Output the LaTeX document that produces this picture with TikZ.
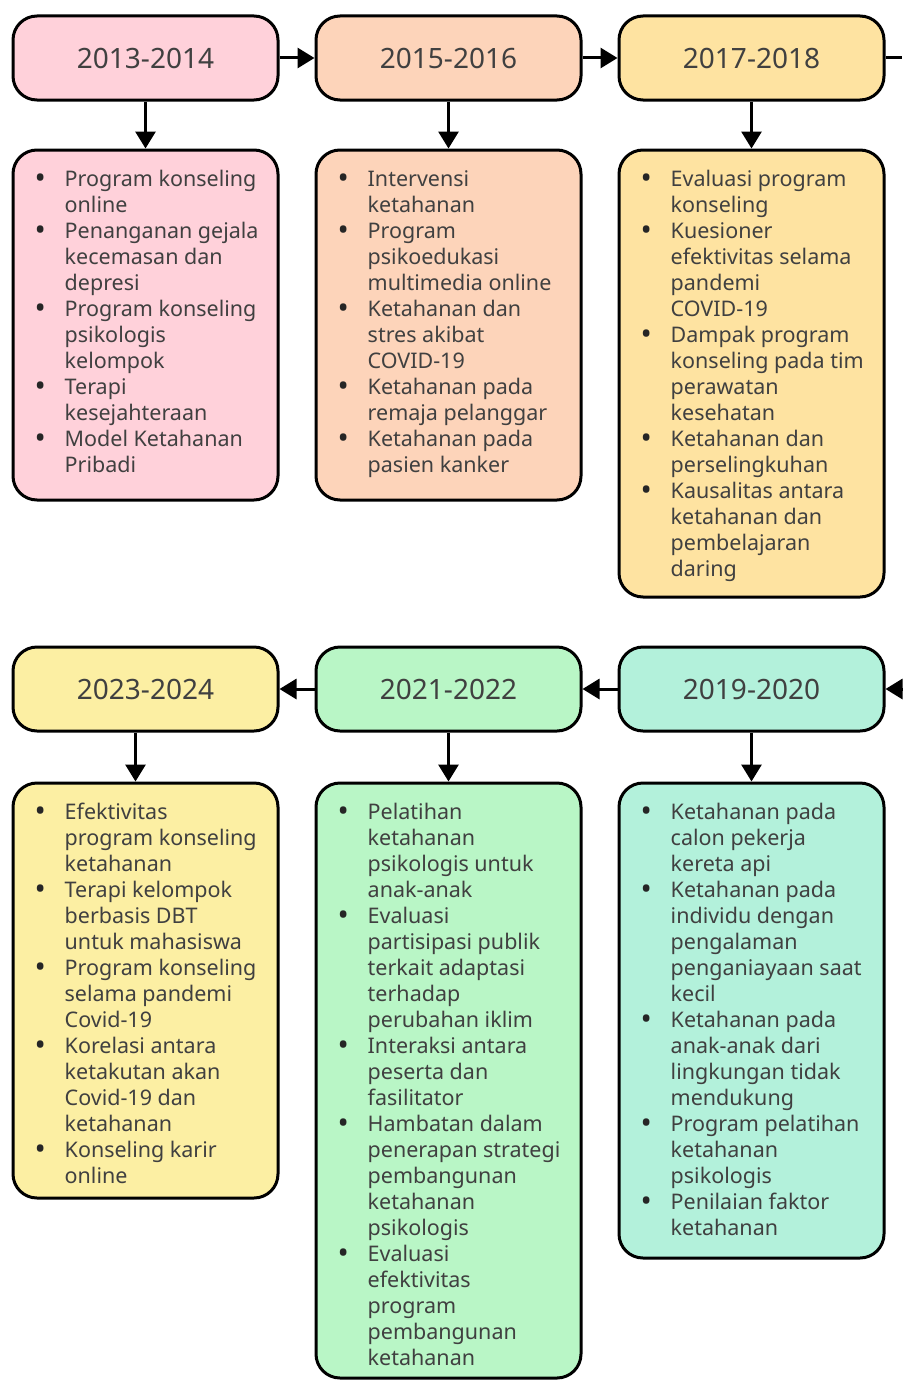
\documentclass[tikz,border=0pt]{standalone}
\usepackage{fontspec}
\setmainfont{Noto Sans}
\usetikzlibrary{arrows.meta}
\definecolor{txt}{HTML}{404040}
\definecolor{cpink}{HTML}{FFD1DA}
\definecolor{corange}{HTML}{FDD4BA}
\definecolor{cgold}{HTML}{FEE3A1}
\definecolor{cyellow}{HTML}{FCEFA3}
\definecolor{cgreen}{HTML}{B9F6C6}
\definecolor{cteal}{HTML}{B3F1DB}
\newcommand{\bul}[1]{\makebox[30pt][l]{\raisebox{-2.4pt}{\fontsize{30}{26}\selectfont\color{black!85}•}}#1}
\newcommand{\cnt}[1]{\hspace*{30pt}#1}
\newcommand{\lines}[1]{\parbox[t]{260pt}{\fontsize{21.5}{26}\selectfont\parindent=0pt #1}}
\tikzset{
  hdr/.style={draw=black, line width=3pt, rounded corners=24pt, minimum width=265pt, minimum height=84pt, font=\fontsize{28}{32}\selectfont, text=txt, inner sep=0pt},
  cbox/.style={draw=black, line width=3pt, rounded corners=24pt, minimum width=265pt, inner sep=0pt},
  lst/.style={anchor=base west, inner sep=0pt, text=txt},
  arr/.style={line width=3pt, -{Triangle[length=17pt,width=20pt]}},
  plain/.style={line width=3pt},
}
\begin{document}
\begin{tikzpicture}[x=1pt,y=-1pt]
\useasboundingbox[fill=white] (0,0) rectangle (902,1381);
% headers
\node[hdr, fill=cpink]   (h1) at (145.5,58) {2013-2014};
\node[hdr, fill=corange] (h2) at (448.5,58) {2015-2016};
\node[hdr, fill=cgold]   (h3) at (751.5,58) {2017-2018};
\node[hdr, fill=cyellow] (h4) at (145.5,689) {2023-2024};
\node[hdr, fill=cgreen]  (h5) at (448.5,689) {2021-2022};
\node[hdr, fill=cteal]   (h6) at (751.5,689) {2019-2020};
% content boxes
\node[cbox, fill=cpink,   minimum height=350pt] (c1) at (145.5,325) {};
\node[cbox, fill=corange, minimum height=350pt] (c2) at (448.5,325) {};
\node[cbox, fill=cgold,   minimum height=447pt] (c3) at (751.5,373.5) {};
\node[cbox, fill=cyellow, minimum height=415pt] (c4) at (145.5,990.5) {};
\node[cbox, fill=cgreen,  minimum height=595pt] (c5) at (448.5,1080.5) {};
\node[cbox, fill=cteal,   minimum height=475pt] (c6) at (751.5,1020.5) {};
% texts
\node[lst] (t1) at ([xshift=23pt,yshift=-38pt]c1.north west) {\lines{%
\bul{Program konseling}\\ \cnt{online}\\
\bul{Penanganan gejala}\\ \cnt{kecemasan dan}\\ \cnt{depresi}\\
\bul{Program konseling}\\ \cnt{psikologis}\\ \cnt{kelompok}\\
\bul{Terapi}\\ \cnt{kesejahteraan}\\
\bul{Model Ketahanan}\\ \cnt{Pribadi}}};
\node[lst] (t2) at ([xshift=23pt,yshift=-38pt]c2.north west) {\lines{%
\bul{Intervensi}\\ \cnt{ketahanan}\\
\bul{Program}\\ \cnt{psikoedukasi}\\ \cnt{multimedia online}\\
\bul{Ketahanan dan}\\ \cnt{stres akibat}\\ \cnt{COVID-19}\\
\bul{Ketahanan pada}\\ \cnt{remaja pelanggar}\\
\bul{Ketahanan pada}\\ \cnt{pasien kanker}}};
\node[lst] (t3) at ([xshift=23pt,yshift=-38pt]c3.north west) {\lines{%
\bul{Evaluasi program}\\ \cnt{konseling}\\
\bul{Kuesioner}\\ \cnt{efektivitas selama}\\ \cnt{pandemi}\\ \cnt{COVID-19}\\
\bul{Dampak program}\\ \cnt{konseling pada tim}\\ \cnt{perawatan}\\ \cnt{kesehatan}\\
\bul{Ketahanan dan}\\ \cnt{perselingkuhan}\\
\bul{Kausalitas antara}\\ \cnt{ketahanan dan}\\ \cnt{pembelajaran}\\ \cnt{daring}}};
\node[lst] (t4) at ([xshift=23pt,yshift=-38pt]c4.north west) {\lines{%
\bul{Efektivitas}\\ \cnt{program konseling}\\ \cnt{ketahanan}\\
\bul{Terapi kelompok}\\ \cnt{berbasis DBT}\\ \cnt{untuk mahasiswa}\\
\bul{Program konseling}\\ \cnt{selama pandemi}\\ \cnt{Covid-19}\\
\bul{Korelasi antara}\\ \cnt{ketakutan akan}\\ \cnt{Covid-19 dan}\\ \cnt{ketahanan}\\
\bul{Konseling karir}\\ \cnt{online}}};
\node[lst] (t5) at ([xshift=23pt,yshift=-38pt]c5.north west) {\lines{%
\bul{Pelatihan}\\ \cnt{ketahanan}\\ \cnt{psikologis untuk}\\ \cnt{anak-anak}\\
\bul{Evaluasi}\\ \cnt{partisipasi publik}\\ \cnt{terkait adaptasi}\\ \cnt{terhadap}\\ \cnt{perubahan iklim}\\
\bul{Interaksi antara}\\ \cnt{peserta dan}\\ \cnt{fasilitator}\\
\bul{Hambatan dalam}\\ \cnt{penerapan strategi}\\ \cnt{pembangunan}\\ \cnt{ketahanan}\\ \cnt{psikologis}\\
\bul{Evaluasi}\\ \cnt{efektivitas}\\ \cnt{program}\\ \cnt{pembangunan}\\ \cnt{ketahanan}}};
\node[lst] (t6) at ([xshift=23pt,yshift=-38pt]c6.north west) {\lines{%
\bul{Ketahanan pada}\\ \cnt{calon pekerja}\\ \cnt{kereta api}\\
\bul{Ketahanan pada}\\ \cnt{individu dengan}\\ \cnt{pengalaman}\\ \cnt{penganiayaan saat}\\ \cnt{kecil}\\
\bul{Ketahanan pada}\\ \cnt{anak-anak dari}\\ \cnt{lingkungan tidak}\\ \cnt{mendukung}\\
\bul{Program pelatihan}\\ \cnt{ketahanan}\\ \cnt{psikologis}\\
\bul{Penilaian faktor}\\ \cnt{ketahanan}}};
% free ends
\coordinate (e1) at (902,58);
\coordinate (e2) at (902,689);
% connectors
\draw[arr] (h1.east) -- (h2.west);
\draw[arr] (h2.east) -- (h3.west);
\draw[plain] (h3.east) -- (e1);
\draw[arr] (e2) -- (h6.east);
\draw[arr] (h6.west) -- (h5.east);
\draw[arr] (h5.west) -- (h4.east);
\draw[arr] (h1.south) -- (c1.north);
\draw[arr] (h2.south) -- (c2.north);
\draw[arr] (h3.south) -- (c3.north);
\draw[arr] ([xshift=-10pt]h4.south) -- ([xshift=-10pt]c4.north);
\draw[arr] (h5.south) -- (c5.north);
\draw[arr] (h6.south) -- (c6.north);
\end{tikzpicture}
\end{document}
